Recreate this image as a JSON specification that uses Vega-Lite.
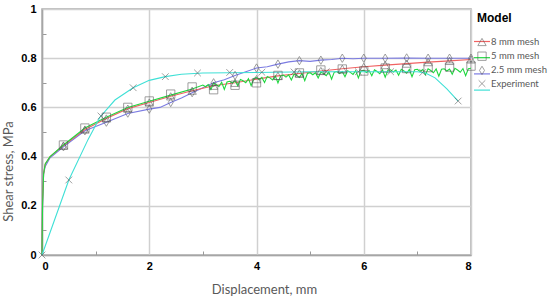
{
  "$schema": "https://vega.github.io/schema/vega-lite/v6.json",
  "width": 429,
  "height": 246,
  "autosize": {"type": "none"},
  "padding": {"left": 42, "top": 9, "right": 79, "bottom": 45},
  "background": "white",
  "config": {"view": {"stroke": "#ababab", "strokeWidth": 1.5}, "font": "Liberation Sans"},
  "datasets": {
    "lines": [
      {"Model": "2.5 mm mesh", "d": 0, "v": 0}, {"Model": "2.5 mm mesh", "d": 0.01, "v": 0.2}, {"Model": "2.5 mm mesh", "d": 0.03, "v": 0.33}, {"Model": "2.5 mm mesh", "d": 0.06, "v": 0.36}, {"Model": "2.5 mm mesh", "d": 0.15, "v": 0.395}, {"Model": "2.5 mm mesh", "d": 0.4, "v": 0.44}, {"Model": "2.5 mm mesh", "d": 0.8, "v": 0.505}, {"Model": "2.5 mm mesh", "d": 1.2, "v": 0.54}, {"Model": "2.5 mm mesh", "d": 1.6, "v": 0.575}, {"Model": "2.5 mm mesh", "d": 2.0, "v": 0.593}, {"Model": "2.5 mm mesh", "d": 2.2, "v": 0.6}, {"Model": "2.5 mm mesh", "d": 2.4, "v": 0.62}, {"Model": "2.5 mm mesh", "d": 2.6, "v": 0.638}, {"Model": "2.5 mm mesh", "d": 2.8, "v": 0.66}, {"Model": "2.5 mm mesh", "d": 3.0, "v": 0.68}, {"Model": "2.5 mm mesh", "d": 3.2, "v": 0.7}, {"Model": "2.5 mm mesh", "d": 3.4, "v": 0.712}, {"Model": "2.5 mm mesh", "d": 3.6, "v": 0.73}, {"Model": "2.5 mm mesh", "d": 3.8, "v": 0.745}, {"Model": "2.5 mm mesh", "d": 4.0, "v": 0.76}, {"Model": "2.5 mm mesh", "d": 4.2, "v": 0.765}, {"Model": "2.5 mm mesh", "d": 4.4, "v": 0.776}, {"Model": "2.5 mm mesh", "d": 4.6, "v": 0.785}, {"Model": "2.5 mm mesh", "d": 4.8, "v": 0.79}, {"Model": "2.5 mm mesh", "d": 5.0, "v": 0.787}, {"Model": "2.5 mm mesh", "d": 5.2, "v": 0.792}, {"Model": "2.5 mm mesh", "d": 5.4, "v": 0.795}, {"Model": "2.5 mm mesh", "d": 5.6, "v": 0.8}, {"Model": "2.5 mm mesh", "d": 5.8, "v": 0.798}, {"Model": "2.5 mm mesh", "d": 6.0, "v": 0.8}, {"Model": "2.5 mm mesh", "d": 6.4, "v": 0.8}, {"Model": "2.5 mm mesh", "d": 6.8, "v": 0.801}, {"Model": "2.5 mm mesh", "d": 7.2, "v": 0.8}, {"Model": "2.5 mm mesh", "d": 7.6, "v": 0.8}, {"Model": "2.5 mm mesh", "d": 8.0, "v": 0.8},
      {"Model": "8 mm mesh", "d": 0, "v": 0}, {"Model": "8 mm mesh", "d": 0.01, "v": 0.22}, {"Model": "8 mm mesh", "d": 0.03, "v": 0.33}, {"Model": "8 mm mesh", "d": 0.06, "v": 0.37}, {"Model": "8 mm mesh", "d": 0.15, "v": 0.4}, {"Model": "8 mm mesh", "d": 0.4, "v": 0.445}, {"Model": "8 mm mesh", "d": 0.8, "v": 0.51}, {"Model": "8 mm mesh", "d": 1.2, "v": 0.555}, {"Model": "8 mm mesh", "d": 1.6, "v": 0.595}, {"Model": "8 mm mesh", "d": 2.0, "v": 0.62}, {"Model": "8 mm mesh", "d": 2.4, "v": 0.645}, {"Model": "8 mm mesh", "d": 2.8, "v": 0.668}, {"Model": "8 mm mesh", "d": 3.2, "v": 0.688}, {"Model": "8 mm mesh", "d": 3.6, "v": 0.7}, {"Model": "8 mm mesh", "d": 4.0, "v": 0.715}, {"Model": "8 mm mesh", "d": 4.4, "v": 0.728}, {"Model": "8 mm mesh", "d": 4.8, "v": 0.738}, {"Model": "8 mm mesh", "d": 5.2, "v": 0.748}, {"Model": "8 mm mesh", "d": 5.6, "v": 0.757}, {"Model": "8 mm mesh", "d": 6.0, "v": 0.765}, {"Model": "8 mm mesh", "d": 6.4, "v": 0.772}, {"Model": "8 mm mesh", "d": 6.8, "v": 0.778}, {"Model": "8 mm mesh", "d": 7.2, "v": 0.784}, {"Model": "8 mm mesh", "d": 7.6, "v": 0.789}, {"Model": "8 mm mesh", "d": 8.0, "v": 0.795},
      {"Model": "5 mm  mesh", "d": 0, "v": 0}, {"Model": "5 mm  mesh", "d": 0.01, "v": 0.2}, {"Model": "5 mm  mesh", "d": 0.03, "v": 0.33}, {"Model": "5 mm  mesh", "d": 0.06, "v": 0.37}, {"Model": "5 mm  mesh", "d": 0.15, "v": 0.4}, {"Model": "5 mm  mesh", "d": 0.4, "v": 0.447}, {"Model": "5 mm  mesh", "d": 0.8, "v": 0.516}, {"Model": "5 mm  mesh", "d": 1.2, "v": 0.56}, {"Model": "5 mm  mesh", "d": 1.6, "v": 0.6}, {"Model": "5 mm  mesh", "d": 2.0, "v": 0.625}, {"Model": "5 mm  mesh", "d": 2.4, "v": 0.65}, {"Model": "5 mm  mesh", "d": 2.8, "v": 0.675},
      {"Model": "5 mm  mesh", "d": 3.00, "v": 0.691}, {"Model": "5 mm  mesh", "d": 3.05, "v": 0.684}, {"Model": "5 mm  mesh", "d": 3.10, "v": 0.693}, {"Model": "5 mm  mesh", "d": 3.15, "v": 0.673}, {"Model": "5 mm  mesh", "d": 3.20, "v": 0.698}, {"Model": "5 mm  mesh", "d": 3.25, "v": 0.693}, {"Model": "5 mm  mesh", "d": 3.30, "v": 0.685}, {"Model": "5 mm  mesh", "d": 3.35, "v": 0.702}, {"Model": "5 mm  mesh", "d": 3.40, "v": 0.673}, {"Model": "5 mm  mesh", "d": 3.45, "v": 0.703},
      {"Model": "5 mm  mesh", "d": 3.50, "v": 0.706}, {"Model": "5 mm  mesh", "d": 3.55, "v": 0.699}, {"Model": "5 mm  mesh", "d": 3.60, "v": 0.708}, {"Model": "5 mm  mesh", "d": 3.65, "v": 0.688}, {"Model": "5 mm  mesh", "d": 3.70, "v": 0.713}, {"Model": "5 mm  mesh", "d": 3.75, "v": 0.708}, {"Model": "5 mm  mesh", "d": 3.80, "v": 0.7}, {"Model": "5 mm  mesh", "d": 3.85, "v": 0.717}, {"Model": "5 mm  mesh", "d": 3.90, "v": 0.688}, {"Model": "5 mm  mesh", "d": 3.95, "v": 0.718},
      {"Model": "5 mm  mesh", "d": 4.00, "v": 0.721}, {"Model": "5 mm  mesh", "d": 4.05, "v": 0.713}, {"Model": "5 mm  mesh", "d": 4.10, "v": 0.722}, {"Model": "5 mm  mesh", "d": 4.15, "v": 0.701}, {"Model": "5 mm  mesh", "d": 4.20, "v": 0.726}, {"Model": "5 mm  mesh", "d": 4.25, "v": 0.72}, {"Model": "5 mm  mesh", "d": 4.30, "v": 0.712}, {"Model": "5 mm  mesh", "d": 4.35, "v": 0.728}, {"Model": "5 mm  mesh", "d": 4.40, "v": 0.699}, {"Model": "5 mm  mesh", "d": 4.45, "v": 0.728},
      {"Model": "5 mm  mesh", "d": 4.50, "v": 0.731}, {"Model": "5 mm  mesh", "d": 4.55, "v": 0.723}, {"Model": "5 mm  mesh", "d": 4.60, "v": 0.732}, {"Model": "5 mm  mesh", "d": 4.65, "v": 0.711}, {"Model": "5 mm  mesh", "d": 4.70, "v": 0.736}, {"Model": "5 mm  mesh", "d": 4.75, "v": 0.73}, {"Model": "5 mm  mesh", "d": 4.80, "v": 0.722}, {"Model": "5 mm  mesh", "d": 4.85, "v": 0.738}, {"Model": "5 mm  mesh", "d": 4.90, "v": 0.709}, {"Model": "5 mm  mesh", "d": 4.95, "v": 0.738},
      {"Model": "5 mm  mesh", "d": 5.00, "v": 0.741}, {"Model": "5 mm  mesh", "d": 5.05, "v": 0.7325}, {"Model": "5 mm  mesh", "d": 5.10, "v": 0.741}, {"Model": "5 mm  mesh", "d": 5.15, "v": 0.7195}, {"Model": "5 mm  mesh", "d": 5.20, "v": 0.744}, {"Model": "5 mm  mesh", "d": 5.25, "v": 0.7375}, {"Model": "5 mm  mesh", "d": 5.30, "v": 0.729}, {"Model": "5 mm  mesh", "d": 5.35, "v": 0.7445}, {"Model": "5 mm  mesh", "d": 5.40, "v": 0.715}, {"Model": "5 mm  mesh", "d": 5.45, "v": 0.7435},
      {"Model": "5 mm  mesh", "d": 5.50, "v": 0.746}, {"Model": "5 mm  mesh", "d": 5.55, "v": 0.7375}, {"Model": "5 mm  mesh", "d": 5.60, "v": 0.746}, {"Model": "5 mm  mesh", "d": 5.65, "v": 0.7245}, {"Model": "5 mm  mesh", "d": 5.70, "v": 0.749}, {"Model": "5 mm  mesh", "d": 5.75, "v": 0.7425}, {"Model": "5 mm  mesh", "d": 5.80, "v": 0.734}, {"Model": "5 mm  mesh", "d": 5.85, "v": 0.7495}, {"Model": "5 mm  mesh", "d": 5.90, "v": 0.72}, {"Model": "5 mm  mesh", "d": 5.95, "v": 0.7485},
      {"Model": "5 mm  mesh", "d": 6.00, "v": 0.751}, {"Model": "5 mm  mesh", "d": 6.05, "v": 0.742}, {"Model": "5 mm  mesh", "d": 6.10, "v": 0.75}, {"Model": "5 mm  mesh", "d": 6.15, "v": 0.729}, {"Model": "5 mm  mesh", "d": 6.20, "v": 0.753}, {"Model": "5 mm  mesh", "d": 6.25, "v": 0.746}, {"Model": "5 mm  mesh", "d": 6.30, "v": 0.737}, {"Model": "5 mm  mesh", "d": 6.35, "v": 0.752}, {"Model": "5 mm  mesh", "d": 6.40, "v": 0.723}, {"Model": "5 mm  mesh", "d": 6.45, "v": 0.751},
      {"Model": "5 mm  mesh", "d": 6.50, "v": 0.753}, {"Model": "5 mm  mesh", "d": 6.55, "v": 0.744}, {"Model": "5 mm  mesh", "d": 6.60, "v": 0.752}, {"Model": "5 mm  mesh", "d": 6.65, "v": 0.731}, {"Model": "5 mm  mesh", "d": 6.70, "v": 0.755}, {"Model": "5 mm  mesh", "d": 6.75, "v": 0.748}, {"Model": "5 mm  mesh", "d": 6.80, "v": 0.739}, {"Model": "5 mm  mesh", "d": 6.85, "v": 0.754}, {"Model": "5 mm  mesh", "d": 6.90, "v": 0.725}, {"Model": "5 mm  mesh", "d": 6.95, "v": 0.753},
      {"Model": "5 mm  mesh", "d": 7.00, "v": 0.755}, {"Model": "5 mm  mesh", "d": 7.05, "v": 0.746}, {"Model": "5 mm  mesh", "d": 7.10, "v": 0.754}, {"Model": "5 mm  mesh", "d": 7.15, "v": 0.733}, {"Model": "5 mm  mesh", "d": 7.20, "v": 0.757}, {"Model": "5 mm  mesh", "d": 7.25, "v": 0.75}, {"Model": "5 mm  mesh", "d": 7.30, "v": 0.741}, {"Model": "5 mm  mesh", "d": 7.35, "v": 0.756}, {"Model": "5 mm  mesh", "d": 7.40, "v": 0.727}, {"Model": "5 mm  mesh", "d": 7.45, "v": 0.755},
      {"Model": "5 mm  mesh", "d": 7.50, "v": 0.757}, {"Model": "5 mm  mesh", "d": 7.55, "v": 0.748}, {"Model": "5 mm  mesh", "d": 7.60, "v": 0.756}, {"Model": "5 mm  mesh", "d": 7.65, "v": 0.735}, {"Model": "5 mm  mesh", "d": 7.70, "v": 0.759}, {"Model": "5 mm  mesh", "d": 7.75, "v": 0.752}, {"Model": "5 mm  mesh", "d": 7.80, "v": 0.743}, {"Model": "5 mm  mesh", "d": 7.85, "v": 0.758}, {"Model": "5 mm  mesh", "d": 7.90, "v": 0.729}, {"Model": "5 mm  mesh", "d": 7.95, "v": 0.757}, {"Model": "5 mm  mesh", "d": 8.00, "v": 0.759},
      {"Model": "Experiment", "d": 0, "v": 0}, {"Model": "Experiment", "d": 0.5, "v": 0.305}, {"Model": "Experiment", "d": 0.86, "v": 0.47}, {"Model": "Experiment", "d": 1.08, "v": 0.56}, {"Model": "Experiment", "d": 1.36, "v": 0.63}, {"Model": "Experiment", "d": 1.7, "v": 0.68}, {"Model": "Experiment", "d": 2.0, "v": 0.71}, {"Model": "Experiment", "d": 2.3, "v": 0.725}, {"Model": "Experiment", "d": 2.6, "v": 0.735}, {"Model": "Experiment", "d": 3.0, "v": 0.74}, {"Model": "Experiment", "d": 4.0, "v": 0.742}, {"Model": "Experiment", "d": 5.0, "v": 0.745}, {"Model": "Experiment", "d": 6.0, "v": 0.745}, {"Model": "Experiment", "d": 7.0, "v": 0.745}, {"Model": "Experiment", "d": 7.15, "v": 0.74}, {"Model": "Experiment", "d": 7.33, "v": 0.72}, {"Model": "Experiment", "d": 7.55, "v": 0.675}, {"Model": "Experiment", "d": 7.76, "v": 0.626}
    ],
    "marks": [
      {"Model": "8 mm mesh", "d": 0.4, "v": 0.445}, {"Model": "8 mm mesh", "d": 0.8, "v": 0.51}, {"Model": "8 mm mesh", "d": 1.2, "v": 0.555}, {"Model": "8 mm mesh", "d": 1.6, "v": 0.595}, {"Model": "8 mm mesh", "d": 2.0, "v": 0.62}, {"Model": "8 mm mesh", "d": 2.4, "v": 0.645}, {"Model": "8 mm mesh", "d": 2.8, "v": 0.668}, {"Model": "8 mm mesh", "d": 3.2, "v": 0.688}, {"Model": "8 mm mesh", "d": 3.6, "v": 0.7}, {"Model": "8 mm mesh", "d": 4.0, "v": 0.715}, {"Model": "8 mm mesh", "d": 4.4, "v": 0.728}, {"Model": "8 mm mesh", "d": 4.8, "v": 0.738}, {"Model": "8 mm mesh", "d": 5.2, "v": 0.748}, {"Model": "8 mm mesh", "d": 5.6, "v": 0.757}, {"Model": "8 mm mesh", "d": 6.0, "v": 0.765}, {"Model": "8 mm mesh", "d": 6.4, "v": 0.772}, {"Model": "8 mm mesh", "d": 6.8, "v": 0.778}, {"Model": "8 mm mesh", "d": 7.2, "v": 0.784}, {"Model": "8 mm mesh", "d": 7.6, "v": 0.789}, {"Model": "8 mm mesh", "d": 8.0, "v": 0.795},
      {"Model": "5 mm  mesh", "d": 0.4, "v": 0.447}, {"Model": "5 mm  mesh", "d": 0.8, "v": 0.516}, {"Model": "5 mm  mesh", "d": 1.2, "v": 0.56}, {"Model": "5 mm  mesh", "d": 1.6, "v": 0.6}, {"Model": "5 mm  mesh", "d": 2.0, "v": 0.626}, {"Model": "5 mm  mesh", "d": 2.4, "v": 0.654}, {"Model": "5 mm  mesh", "d": 2.8, "v": 0.683}, {"Model": "5 mm  mesh", "d": 3.2, "v": 0.672}, {"Model": "5 mm  mesh", "d": 3.6, "v": 0.69}, {"Model": "5 mm  mesh", "d": 4.0, "v": 0.7}, {"Model": "5 mm  mesh", "d": 4.4, "v": 0.73}, {"Model": "5 mm  mesh", "d": 4.8, "v": 0.74}, {"Model": "5 mm  mesh", "d": 5.2, "v": 0.752}, {"Model": "5 mm  mesh", "d": 5.6, "v": 0.756}, {"Model": "5 mm  mesh", "d": 6.0, "v": 0.748}, {"Model": "5 mm  mesh", "d": 6.4, "v": 0.76}, {"Model": "5 mm  mesh", "d": 6.8, "v": 0.758}, {"Model": "5 mm  mesh", "d": 7.2, "v": 0.762}, {"Model": "5 mm  mesh", "d": 7.6, "v": 0.764}, {"Model": "5 mm  mesh", "d": 8.0, "v": 0.768},
      {"Model": "2.5 mm mesh", "d": 0.4, "v": 0.44}, {"Model": "2.5 mm mesh", "d": 0.8, "v": 0.505}, {"Model": "2.5 mm mesh", "d": 1.2, "v": 0.54}, {"Model": "2.5 mm mesh", "d": 1.6, "v": 0.577}, {"Model": "2.5 mm mesh", "d": 2.0, "v": 0.593}, {"Model": "2.5 mm mesh", "d": 2.4, "v": 0.62}, {"Model": "2.5 mm mesh", "d": 2.8, "v": 0.66}, {"Model": "2.5 mm mesh", "d": 3.2, "v": 0.7}, {"Model": "2.5 mm mesh", "d": 3.6, "v": 0.73}, {"Model": "2.5 mm mesh", "d": 4.0, "v": 0.76}, {"Model": "2.5 mm mesh", "d": 4.4, "v": 0.776}, {"Model": "2.5 mm mesh", "d": 4.8, "v": 0.79}, {"Model": "2.5 mm mesh", "d": 5.2, "v": 0.792}, {"Model": "2.5 mm mesh", "d": 5.6, "v": 0.8}, {"Model": "2.5 mm mesh", "d": 6.0, "v": 0.8}, {"Model": "2.5 mm mesh", "d": 6.4, "v": 0.8}, {"Model": "2.5 mm mesh", "d": 6.8, "v": 0.801}, {"Model": "2.5 mm mesh", "d": 7.2, "v": 0.8}, {"Model": "2.5 mm mesh", "d": 7.6, "v": 0.8}, {"Model": "2.5 mm mesh", "d": 8.0, "v": 0.8},
      {"Model": "Experiment", "d": 0.0, "v": 0.0}, {"Model": "Experiment", "d": 0.5, "v": 0.305}, {"Model": "Experiment", "d": 1.1, "v": 0.565}, {"Model": "Experiment", "d": 1.7, "v": 0.68}, {"Model": "Experiment", "d": 2.3, "v": 0.725}, {"Model": "Experiment", "d": 2.9, "v": 0.74}, {"Model": "Experiment", "d": 3.5, "v": 0.742}, {"Model": "Experiment", "d": 4.1, "v": 0.743}, {"Model": "Experiment", "d": 4.7, "v": 0.744}, {"Model": "Experiment", "d": 5.3, "v": 0.745}, {"Model": "Experiment", "d": 5.9, "v": 0.745}, {"Model": "Experiment", "d": 6.5, "v": 0.745}, {"Model": "Experiment", "d": 7.1, "v": 0.742}, {"Model": "Experiment", "d": 7.76, "v": 0.626}
    ]
  },
  "encoding": {
    "x": {
      "field": "d", "type": "quantitative",
      "scale": {"domain": [0, 8], "nice": false, "zero": false},
      "axis": {
        "title": "Displacement, mm",
        "values": [0, 1, 2, 3, 4, 5, 6, 7, 8],
        "labelExpr": "datum.value % 2 == 0 ? datum.label : ''",
        "grid": true,
        "gridColor": "#d0d0d0", "gridWidth": 1.5,
        "gridOpacity": {"condition": {"test": "datum.value % 2 == 0", "value": 1}, "value": 0},
        "tickSize": -4, "tickColor": "#999999",
        "tickOpacity": {"condition": {"test": "datum.value % 2 == 1", "value": 1}, "value": 0},
        "domainColor": "#a6a6a6", "domainWidth": 1.5,
        "labelFont": "Liberation Sans", "labelFontWeight": "bold", "labelFontSize": 11, "labelColor": "#000000",
        "labelPadding": 9,
        "titleFont": "Lato", "titleFontWeight": "normal", "titleFontSize": 13, "titleColor": "#595959",
        "titleX": 222, "titleY": 34, "titleBaseline": "middle", "titleAlign": "center"
      }
    },
    "y": {
      "field": "v", "type": "quantitative",
      "scale": {"domain": [0, 1], "nice": false},
      "axis": {
        "title": "Shear stress, MPa",
        "values": [0, 0.1, 0.2, 0.3, 0.4, 0.5, 0.6, 0.7, 0.8, 0.9, 1],
        "labelExpr": "round(datum.value * 10) % 2 == 0 ? format(datum.value, '~g') : ''",
        "grid": true,
        "gridColor": "#d0d0d0", "gridWidth": 1.5,
        "gridOpacity": {"condition": {"test": "round(datum.value * 10) % 2 == 0", "value": 1}, "value": 0},
        "tickSize": -4, "tickColor": "#999999",
        "tickOpacity": {"condition": {"test": "round(datum.value * 10) % 2 == 1", "value": 1}, "value": 0},
        "domainColor": "#a6a6a6", "domainWidth": 1.5,
        "labelFont": "Liberation Sans", "labelFontWeight": "bold", "labelFontSize": 11, "labelColor": "#000000",
        "labelPadding": 10,
        "titleFont": "Lato", "titleFontWeight": "normal", "titleFontSize": 13, "titleColor": "#595959",
        "titleX": -34, "titleY": 162, "titleBaseline": "middle", "titleAlign": "center", "titleAngle": -90
      }
    }
  },
  "layer": [
    {
      "data": {"name": "lines"},
      "mark": {"type": "line", "strokeWidth": 1.1},
      "encoding": {
        "color": {
          "field": "Model", "type": "nominal",
          "scale": {"domain": ["8 mm mesh", "5 mm  mesh", "2.5 mm mesh", "Experiment"], "range": ["#f06262", "#1fd83f", "#7b7be2", "#3fe0d6"]},
          "legend": {
            "title": null, "orient": "none", "legendX": 431, "legendY": 23.5, "padding": 0,
            "symbolType": "stroke", "symbolSize": 256, "symbolStrokeWidth": 1.2,
            "labelExpr": "''", "labelFontSize": 9.5, "rowPadding": 2.2
          }
        },
        "order": {"field": "d", "type": "quantitative"}
      }
    },
    {
      "data": {"name": "marks"},
      "mark": {"type": "point", "filled": false, "stroke": "#555555", "strokeWidth": 0.8, "size": 70},
      "encoding": {
        "shape": {
          "field": "Model", "type": "nominal",
          "sort": ["8 mm mesh", "5 mm  mesh", "2.5 mm mesh", "Experiment"],
          "scale": {"range": ["triangle-up", "square", "M0,-1L0.6,0L0,1L-0.6,0Z", "M-0.8,-0.8L0.8,0.8M-0.8,0.8L0.8,-0.8"]},
          "legend": {
            "title": "Model", "orient": "none", "legendX": 435, "legendY": 4, "padding": 0,
            "symbolStrokeColor": "#555555", "symbolFillColor": "transparent", "symbolStrokeWidth": 0.8, "symbolSize": 70,
            "titleFont": "Liberation Sans", "titleFontSize": 12, "titleFontWeight": "bold", "titleColor": "#000000", "titlePadding": 12,
            "labelFont": "Lato", "labelFontSize": 9.5, "labelColor": "#595959", "labelOffset": 4, "rowPadding": 2.2
          }
        }
      }
    }
  ]
}
